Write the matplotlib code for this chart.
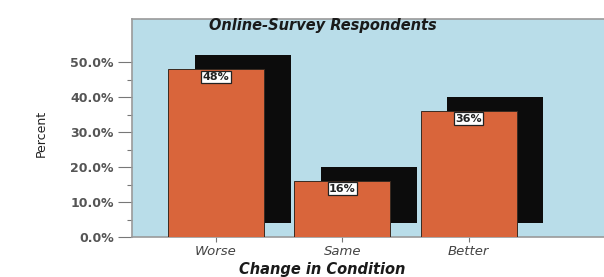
import matplotlib
matplotlib.use('Agg')
import matplotlib.pyplot as plt
from matplotlib.ticker import FixedLocator, FuncFormatter

# data
categories = ['Worse', 'Same', 'Better']
percents = [48, 16, 36]
value_labels = ['48%', '16%', '36%']
ytick_major = [0, 10, 20, 30, 40, 50]
ytick_minor = [5, 15, 25, 35, 45]

fig = plt.figure(figsize=(6.04, 2.77), dpi=100)
ax = fig.add_axes([0.2185, 0.1444, 0.7815, 0.787])
ax.set_facecolor('#b9dde9')

x = list(range(len(categories)))
width = 0.76
shadow_dx = 0.21
shadow_dy = 4

# black drop shadows behind the bars
ax.bar([i + shadow_dx for i in x], percents, width=width, bottom=shadow_dy,
       color='#0c0c0c', zorder=2)
ax.bar(x, percents, width=width, color='#d9653b', edgecolor='#3a2a20',
       linewidth=0.7, zorder=3)

for i, v, lab in zip(x, percents, value_labels):
    ax.text(i, v - 0.8, lab, ha='center', va='top', fontsize=8,
            fontweight='bold', color='#222222', zorder=5,
            bbox=dict(boxstyle='square,pad=0.12', fc='white', ec='#222222', lw=0.9))

ax.set_xlim(-0.665, 3.07)
ax.set_ylim(0, 62.3)
ax.set_xticks(x)
ax.set_xticklabels(categories, fontstyle='italic', fontsize=9.5, color='#444444')
ax.yaxis.set_major_locator(FixedLocator(ytick_major))
ax.yaxis.set_minor_locator(FixedLocator(ytick_minor))
ax.yaxis.set_major_formatter(FuncFormatter(lambda v, p: f'{v:.1f}%'))
for t in ax.get_yticklabels():
    t.set_fontweight('bold')
ax.tick_params(axis='y', which='major', length=10, width=0.8, color='#777777',
               labelsize=9, labelcolor='#555555', pad=3)
ax.tick_params(axis='y', which='minor', length=3.6, width=0.8, color='#777777')
ax.tick_params(axis='x', length=3.6, width=0.8, color='#777777', pad=2)

for s in ['right']:
    ax.spines[s].set_visible(False)
for s in ['left', 'top', 'bottom']:
    ax.spines[s].set_color('#9a9a9a')
    ax.spines[s].set_linewidth(1.2)

ax.text(0.405, 0.97, 'Online-Survey Respondents', transform=ax.transAxes,
        ha='center', va='center', fontsize=10.5, fontweight='bold',
        fontstyle='italic', color='#1a1a1a')

fig.text(0.069, 0.52, 'Percent', rotation=90, ha='center', va='center',
         fontsize=9, family=['Liberation Sans Narrow', 'DejaVu Sans'],
         color='#222222')
fig.text(0.533, 0.028, 'Change in Condition', ha='center', va='center',
         fontsize=10.5, fontweight='bold', fontstyle='italic', color='#1a1a1a')

fig.savefig('out.png', dpi=100)
